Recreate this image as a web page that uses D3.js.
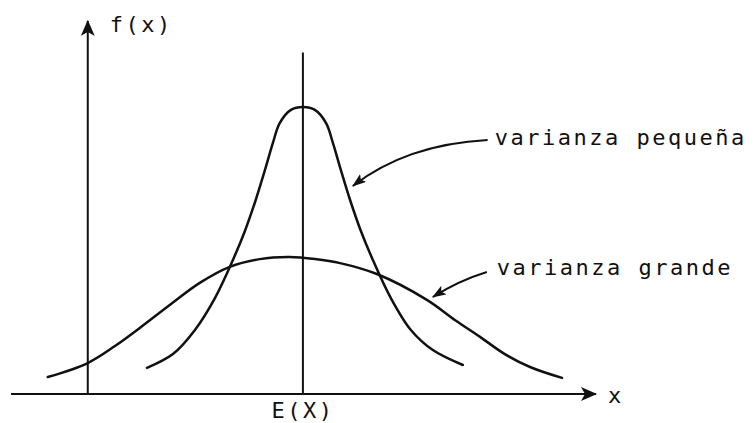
<!DOCTYPE html>
<html>
<head>
<meta charset="utf-8">
<script src="https://cdn.jsdelivr.net/npm/d3@7"></script>
<style>
  body { margin: 0; background: #fff; }
  text { font-family: 'DejaVu Sans Mono', monospace; font-size: 22px; letter-spacing: 2.5px; fill: #111; }
</style>
</head>
<body>
<script>
// Curves (x in units of spread, f relative to the narrow peak)
const narrowX = [-3.9, -3.25, -2.7, -2.2, -1.75, -1.45, -1.18, -0.95, -0.75, -0.58, -0.3, 0,
    0.3, 0.58, 0.75, 0.95, 1.18, 1.45, 1.75, 2.2, 2.7, 3.25, 4.0]
const narrowY = [0.091, 0.139, 0.223, 0.334, 0.467, 0.568, 0.676, 0.78, 0.875, 0.944, 0.99, 1.0,
    0.99, 0.944, 0.875, 0.78, 0.676, 0.568, 0.467, 0.334, 0.223, 0.153, 0.101]

const wideX = [-6.38, -5.38, -4.7, -4.08, -3.33, -2.58, -1.83, -1.08, -0.33, 0.3,
    0.93, 1.85, 3.1, 3.8, 4.43, 5.05, 5.68, 6.48]
const wideY = [0.059, 0.108, 0.167, 0.23, 0.31, 0.387, 0.443, 0.47, 0.477, 0.47,
    0.456, 0.418, 0.328, 0.258, 0.199, 0.139, 0.094, 0.056]

const xExtent = [-7.3, 7.33]
const yAxisAt = -5.38
const meanAt = 0
const labels = ['f(x)', 'x', 'E(X)', 'varianza pequeña', 'varianza grande']

const width = 753
const height = 423

const svg = d3.select('body').append('svg')
    .attr('width', width)
    .attr('height', height)

const xScale = d3.scaleLinear()
    .domain(xExtent)
    .range([11, 596])

const yScale = d3.scaleLinear()
    .domain([0, 1])
    .range([394, 107])

// arrowheads
const defs = svg.append('defs')
defs.append('marker')
    .attr('id', 'bigHead')
    .attr('viewBox', '0 0 16 14')
    .attr('refX', 15).attr('refY', 7)
    .attr('markerWidth', 16).attr('markerHeight', 14)
    .attr('markerUnits', 'userSpaceOnUse')
    .attr('orient', 'auto')
    .append('path')
        .attr('d', 'M0,0 L16,7 L0,14 L4,7 Z')
        .style('fill', '#111')

defs.append('marker')
    .attr('id', 'smallHead')
    .attr('viewBox', '0 0 14 10')
    .attr('refX', 13).attr('refY', 5)
    .attr('markerWidth', 14).attr('markerHeight', 10)
    .attr('markerUnits', 'userSpaceOnUse')
    .attr('orient', 'auto')
    .append('path')
        .attr('d', 'M0,0 L14,5 L0,10 L3,5 Z')
        .style('fill', '#111')

// x axis
svg.append('line')
    .attr('x1', xScale(xExtent[0]))
    .attr('x2', xScale(xExtent[1]))
    .attr('y1', yScale(0)).attr('y2', yScale(0))
    .style('stroke', '#111')
    .style('stroke-width', 2)
    .attr('marker-end', 'url(#bigHead)')

// y axis
svg.append('line')
    .attr('x1', xScale(yAxisAt)).attr('x2', xScale(yAxisAt))
    .attr('y1', yScale(0))
    .attr('y2', yScale(1.3))
    .style('stroke', '#111')
    .style('stroke-width', 2)
    .attr('marker-end', 'url(#bigHead)')

// mean line
svg.append('line')
    .attr('x1', xScale(meanAt)).attr('x2', xScale(meanAt))
    .attr('y1', yScale(0))
    .attr('y2', yScale(1.19))
    .style('stroke', '#111')
    .style('stroke-width', 2)

const line = d3.line()
    .x(d => xScale(d[0]))
    .y(d => yScale(d[1]))
    .curve(d3.curveCatmullRom.alpha(0.5))

svg.append('path')
    .datum(d3.zip(narrowX, narrowY))
    .style('stroke', '#111')
    .style('stroke-width', 2.5)
    .style('fill', 'none')
    .style('stroke-linecap', 'round')
    .attr('d', line)

svg.append('path')
    .datum(d3.zip(wideX, wideY))
    .style('stroke', '#111')
    .style('stroke-width', 2.5)
    .style('fill', 'none')
    .style('stroke-linecap', 'round')
    .attr('d', line)

// labels
svg.append('text')
    .attr('x', xScale(yAxisAt) + 22)
    .attr('y', yScale(1.26))
    .text(labels[0])

svg.append('text')
    .attr('x', xScale(xExtent[1]) + 12)
    .attr('y', yScale(0) + 9)
    .text(labels[1])

svg.append('text')
    .attr('x', xScale(meanAt))
    .attr('y', yScale(0) + 24)
    .attr('text-anchor', 'middle')
    .text(labels[2])

// annotation arrows, anchored in data units
const smallStart = [xScale(4.62), yScale(0.885)]
const smallEnd = [xScale(1.25), yScale(0.725)]
svg.append('path')
    .attr('d', `M${smallStart[0]},${smallStart[1]} Q${xScale(2.6)},${yScale(0.87)} ${smallEnd[0]},${smallEnd[1]}`)
    .style('stroke', '#111')
    .style('stroke-width', 2)
    .style('fill', 'none')
    .attr('marker-end', 'url(#smallHead)')

svg.append('text')
    .attr('x', xScale(4.8))
    .attr('y', yScale(0.868))
    .text(labels[3])

const wideStart = [xScale(4.6), yScale(0.425)]
const wideEnd = [xScale(3.25), yScale(0.338)]
svg.append('path')
    .attr('d', `M${wideStart[0]},${wideStart[1]} Q${xScale(3.9)},${yScale(0.395)} ${wideEnd[0]},${wideEnd[1]}`)
    .style('stroke', '#111')
    .style('stroke-width', 2)
    .style('fill', 'none')
    .attr('marker-end', 'url(#smallHead)')

svg.append('text')
    .attr('x', xScale(4.85))
    .attr('y', yScale(0.415))
    .text(labels[4])
</script>
</body>
</html>
